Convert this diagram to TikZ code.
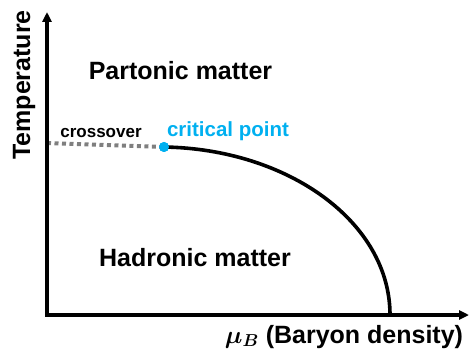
\documentclass[tikz,border=0pt]{standalone}
\usepackage{amsmath}
\usepackage{amssymb}
\usepackage{fontspec}
\setmainfont{Liberation Sans}
\usetikzlibrary{arrows.meta, positioning}
\definecolor{critblue}{HTML}{00B0F0}
\definecolor{crossgray}{HTML}{7F7F7F}

\begin{document}
\begin{tikzpicture}[
		x=1pt, y=-1pt,
		>={Triangle[length=10pt, width=9pt]},
		axis/.style={->, line width=4pt, black},
		boundary/.style={line width=3.6pt, black},
		crossline/.style={line width=4pt, crossgray, dash pattern=on 4pt off 3.5pt},
		phase/.style={font=\fontsize{25}{28}\selectfont\bfseries, anchor=base},
		axislabel/.style={font=\fontsize{25}{28}\selectfont\bfseries},
		smalllabel/.style={font=\fontsize{17}{20}\selectfont\bfseries, anchor=base},
		critlabel/.style={font=\fontsize{20.5}{24}\selectfont\bfseries, text=critblue, anchor=base},
		critdot/.style={circle, fill=critblue, minimum size=10pt, inner sep=0pt}
		]
		
		% Fixed page size
		\useasboundingbox (0,0) rectangle (470,352);
		
		% Axis end points
		\coordinate (origin) at (47,315);
		\coordinate (ytop)   at (47,12);
		\coordinate (xleft)  at (45,315);
		\coordinate (xright) at (469,315);
		
		% Phase boundary end points
		\coordinate (cross) at (47,143);
		\coordinate (xend)  at (390,315);
		\node[critdot] (cp) at (164,147) {};
		
		% --- Lines ---
		
		% Crossover region
		\draw[crossline] (cross) -- (cp.center);
		
		% First order transition line
		\draw[boundary] (cp.center) .. controls (288,149) and (390,222) .. (xend);
		
		% Axes
		\draw[axis] (origin) -- (ytop);
		\draw[axis] (xleft) -- (xright);
		
		% Critical point drawn on top
		\node[critdot] at (cp) {};
		
		% --- Labels ---
		\node[axislabel, rotate=90] (temp) at (24,85) {Temperature};
		\node[phase] (parton) at (180.5,80) {Partonic matter};
		\node[phase] (hadron) at (195,266) {Hadronic matter};
		\node[smalllabel] (crosstext) at (101,138) {crossover};
		\node[critlabel] (cptext) at (228,137) {critical point};
		\node[phase] (mub) at (344,343) {{\boldmath$\mu_B$} (Baryon density)};
		
	\end{tikzpicture}
\end{document}
